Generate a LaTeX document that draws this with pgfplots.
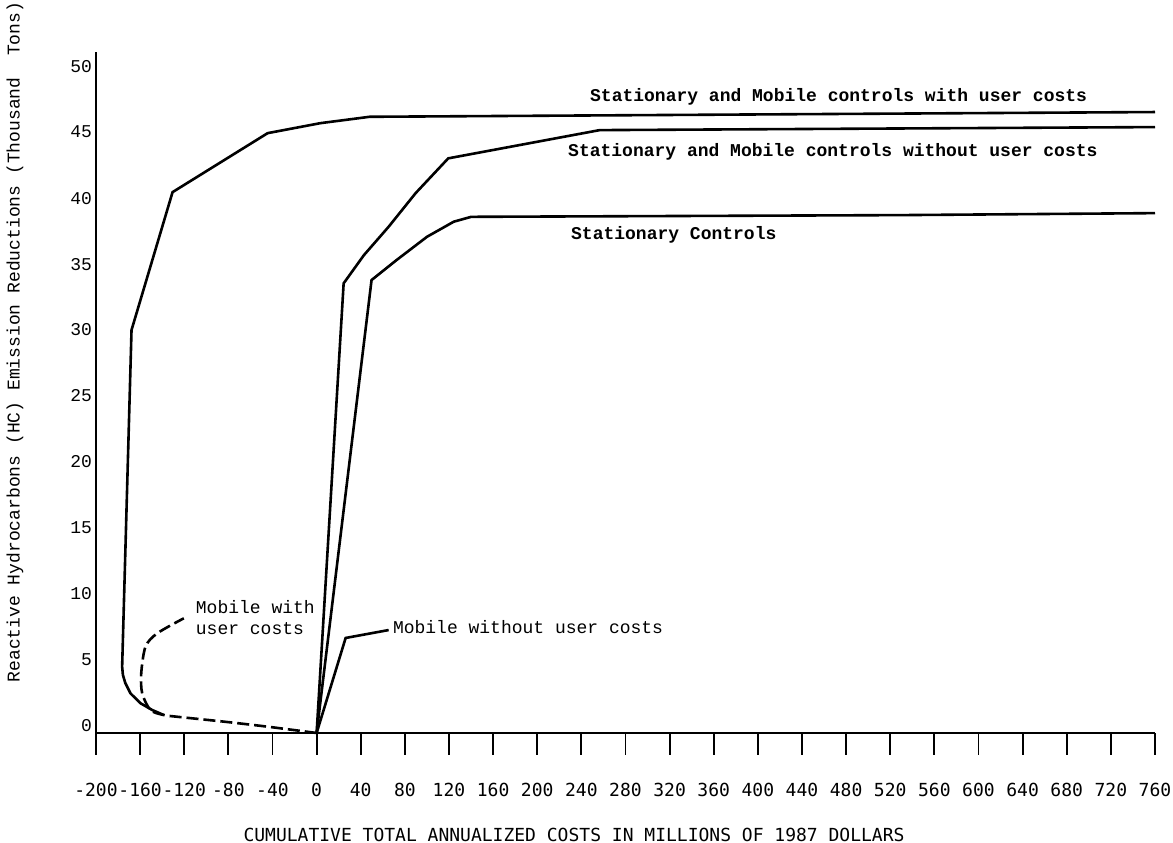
\documentclass[border=0pt]{standalone}
\usepackage{fontspec}
\setmainfont{Liberation Mono}
\newfontfamily\dvmono{DejaVu Sans Mono}
\usepackage{pgfplots}
\pgfplotsset{compat=1.18}
\begin{document}
\begin{tikzpicture}
\begin{axis}[
  scale only axis, width=529.5pt, height=340.5pt,
  xmin=-200, xmax=760, ymin=0, ymax=51.6,
  axis x line*=bottom, axis y line*=left,
  axis line style={line width=1.3pt, black},
  clip=false,
  tick align=outside,
  major tick length=11pt,
  xtick={-200,-160,...,760},
  xticklabels={-200,-160,-120,-80,-40,0,40,80,120,160,200,240,280,320,360,400,440,480,520,560,600,640,680,720,760},
  xtick style={line width=0.9pt, black},
  xticklabel style={font=\dvmono\fontsize{9}{10}\selectfont, anchor=center, yshift=-17.5pt},
  ytick={0,5,...,50},
  yticklabels={0,5,10,15,20,25,30,35,40,45,50},
  ytick style={draw=none},
  yticklabel style={font=\fontsize{9}{10}\selectfont, anchor=east, yshift=3.5pt, xshift=12.5pt},
  xlabel={CUMULATIVE TOTAL ANNUALIZED COSTS IN MILLIONS OF 1987 DOLLARS},
  xlabel style={font=\dvmono\fontsize{9}{10}\selectfont, at={(axis description cs:0.4514,0)}, anchor=center, yshift=-51pt},
  ylabel={Reactive Hydrocarbons (HC) Emission Reductions (Thousand\ \ Tons)},
  ylabel style={font=\fontsize{9}{10}\selectfont, at={(axis description cs:-0.0765,0.574)}, anchor=center},
]
% Stationary and Mobile controls with user costs
\addplot[line width=1.3pt, black] coordinates {(-138.5,1.36) (-149,1.74) (-159.6,2.25) (-168.7,3.0) (-173.5,3.8) (-175.6,4.4) (-176.3,5.02) (-167.8,30.53) (-130.6,40.98) (-44.4,45.45) (3.6,46.21) (25,46.44) (48,46.69) (760,47.05)};
% Stationary and Mobile controls without user costs
\addplot[line width=1.3pt, black] coordinates {(0,0) (24.5,34.07) (42.8,36.2) (65.3,38.36) (89.8,40.91) (119.3,43.54) (256.6,45.68) (760,45.91)};
% Stationary controls
\addplot[line width=1.3pt, black] coordinates {(0,0) (49.8,34.32) (72.4,35.83) (100.1,37.6) (124.3,38.74) (140.1,39.11) (530,39.24) (760,39.39)};
% Mobile without user costs
\addplot[line width=1.3pt, black] coordinates {(0,0) (26.3,7.2) (65.3,7.8)};
% Mobile with user costs (dashed)
\addplot[line width=1.3pt, black, smooth, dash pattern=on 6pt off 2.5pt] coordinates {(0,0) (-44.7,0.48) (-84.1,0.86) (-126.4,1.23) (-138.5,1.36) (-150.6,1.74) (-158.1,3.0) (-159,4.52) (-155.1,6.54) (-144.5,7.55) (-120.4,8.69)};

\node[anchor=west, inner sep=0pt, font=\bfseries\fontsize{9}{10}\selectfont] at (axis cs:247.6,48.2) {Stationary and Mobile controls with user costs};
\node[anchor=west, inner sep=0pt, font=\bfseries\fontsize{9}{10}\selectfont] at (axis cs:227.7,44.04) {Stationary and Mobile controls without user costs};
\node[anchor=west, inner sep=0pt, font=\bfseries\fontsize{9}{10}\selectfont] at (axis cs:230.4,37.73) {Stationary Controls};
\node[anchor=west, inner sep=0pt, align=left, font=\fontsize{9}{10.5}\selectfont] at (axis cs:-109.8,8.75) {Mobile with\\user costs};
\node[anchor=west, inner sep=0pt, font=\fontsize{9}{10}\selectfont] at (axis cs:68.9,8.03) {Mobile without user costs};
\end{axis}
\pgfresetboundingbox
\path[use as bounding box] ([shift={(-48pt,-55pt)}]current axis.south west) rectangle ([shift={(9pt,26pt)}]current axis.north east);
\end{tikzpicture}
\end{document}
